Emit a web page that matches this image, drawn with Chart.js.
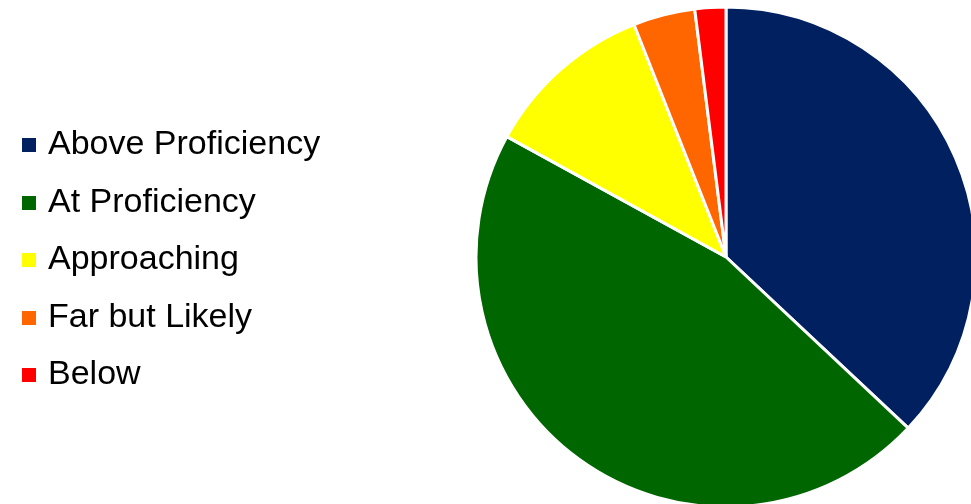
<!DOCTYPE html>
<html>
<head>
<meta charset="utf-8">
<script src="https://cdn.jsdelivr.net/npm/chart.js@4"></script>
<style>
  html, body { margin: 0; padding: 0; background: #fff; overflow: hidden; }
  #wrap { position: absolute; left: 0; top: 0; }
</style>
</head>
<body>
<div id="wrap"><canvas id="chart-pie" width="1132" height="504"></canvas></div>
<script>
// Proficiency breakdown (percent of students)
const categories = ['Above Proficiency', 'At Proficiency', 'Approaching', 'Far but Likely', 'Below'];
const values = [37, 46, 11, 4, 2];
const colors = ['#002060', '#006600', '#FFFF00', '#FF6600', '#FF0000'];

// small square swatches used as legend markers
function swatch(color) {
  const c = document.createElement('canvas');
  c.width = 14; c.height = 14;
  const g = c.getContext('2d');
  g.fillStyle = color;
  g.fillRect(0, 0, 14, 14);
  return c;
}
const swatches = colors.map(swatch);

// nudge the legend a few px down without moving the pie
const legendNudge = {
  id: 'legendNudge',
  afterLayout(chart) {
    if (chart.legend) { chart.legend.top += 3; chart.legend.bottom += 3; }
  }
};

const ctx = document.getElementById('chart-pie').getContext('2d');
new Chart(ctx, {
  type: 'pie',
  data: {
    labels: categories,
    datasets: [{
      data: values,
      backgroundColor: colors,
      borderColor: '#ffffff',
      borderWidth: 3,
      radius: 250,
      clip: false
    }]
  },
  options: {
    responsive: false,
    animation: false,
    layout: { padding: { left: 3.5, top: 10, right: 0, bottom: 0 } },
    plugins: {
      tooltip: { enabled: false },
      legend: {
        position: 'left',
        maxWidth: 316.5,
        labels: {
          usePointStyle: true,
          pointStyleWidth: 4,
          padding: 23.5,
          color: '#000000',
          font: { family: '"Liberation Sans", Arial, sans-serif', size: 34 },
          generateLabels(chart) {
            const base = Chart.overrides.pie.plugins.legend.labels.generateLabels(chart);
            return base.map((item, i) => Object.assign(item, { pointStyle: swatches[i] }));
          }
        }
      }
    }
  },
  plugins: [legendNudge]
});
</script>
</body>
</html>
